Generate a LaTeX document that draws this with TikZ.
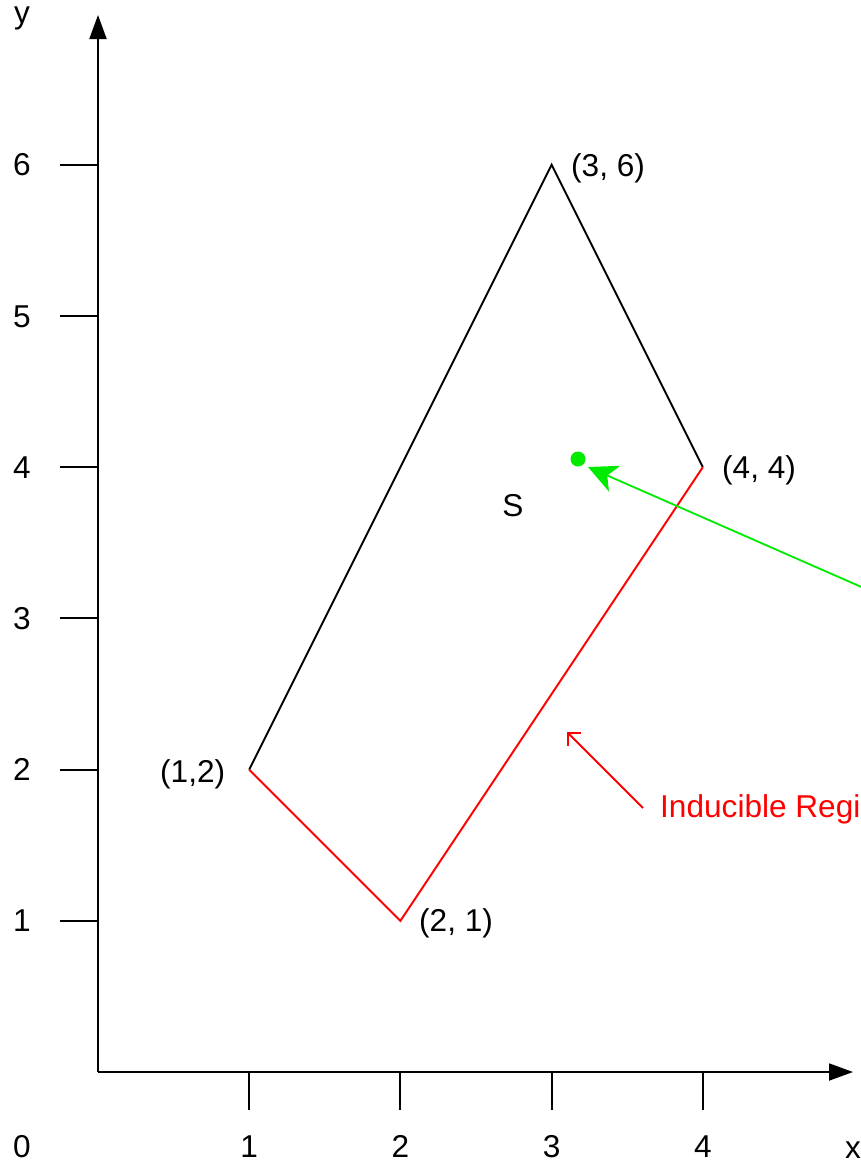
\documentclass[tikz,border=0pt]{standalone}
\usepackage{fontspec}
\setmainfont{Liberation Sans}
\usetikzlibrary{arrows.meta}
\definecolor{grn}{RGB}{0,235,0}
\definecolor{rd}{RGB}{255,0,0}
\begin{document}
\begin{tikzpicture}[x=1pt,y=-1pt,
 lbl/.style={inner sep=0pt, font=\fontsize{31.6}{38}\selectfont},
 axisline/.style={line width=1.9pt, -{Triangle[length=24pt,width=17pt]}},
 tickline/.style={line width=1.9pt},
 edgeline/.style={line width=1.9pt, line join=miter},
 greenarrow/.style={grn, line width=1.8pt, -{Stealth[length=29pt,width=28pt,inset=8pt]}},
 redarrow/.style={rd, line width=1.9pt, -{Straight Barb[length=9pt,width=18pt]}},
]
\useasboundingbox (0,0) rectangle (861,1165);
\clip (0,0) rectangle (861,1165);
% axes
\coordinate (O) at (98,1072);
\coordinate (xend) at (853,1072);
\coordinate (yend) at (98,15);
\draw[axisline] (O) -- (xend);
\draw[axisline] (O) -- (yend);
\node[lbl, anchor=base] (xlab) at (853,1158) {x};
\node[lbl, anchor=base] (ylab) at (22,23) {y};
\node[lbl, anchor=base] (zero) at (22,1157) {0};
% ticks
\foreach \i in {1,...,4} {
  \coordinate (xt\i) at ({98+151.2*\i},1072);
  \draw[tickline] (xt\i) -- ++(0,38);
  \node[lbl, anchor=base] (xl\i) at ({98+151.2*\i},1157) {\i};
}
\foreach \i in {1,...,6} {
  \coordinate (yt\i) at (98,{1072-151.2*\i});
  \draw[tickline] (yt\i) -- ++(-38,0);
  \node[lbl, anchor=base] (yl\i) at (22,{1083-151.2*\i}) {\i};
}
% polygon
\coordinate (A) at (249.2,769.6);
\coordinate (B) at (551.6,164.8);
\coordinate (C) at (702.8,467.2);
\coordinate (D) at (400.4,920.8);
\draw[edgeline] (A) -- (B) -- (C);
\draw[edgeline, rd] (C) -- (D) -- (A);
\node[lbl, anchor=base west] (lA) at (160,782) {(1,2)};
\node[lbl, anchor=base west] (lB) at (571,176) {(3, 6)};
\node[lbl, anchor=base west] (lC) at (722,478) {(4, 4)};
\node[lbl, anchor=base west] (lD) at (419,931) {(2, 1)};
\node[lbl, anchor=base] (S) at (513,516) {S};
% green point and arrow
\node[circle, fill=grn, inner sep=0pt, minimum size=15pt] (dot) at (578,459) {};
\coordinate (gtip) at (588,467);
\coordinate (gtail) at (907,607);
\draw[greenarrow] (gtail) -- (gtip);
% red label and arrow
\coordinate (rtip) at (567,732);
\coordinate (rtail) at (643,808);
\draw[redarrow] (rtail) -- (rtip);
\node[lbl, anchor=base west, text=rd] (ind) at (660,817) {Inducible Regi};
\end{tikzpicture}
\end{document}
